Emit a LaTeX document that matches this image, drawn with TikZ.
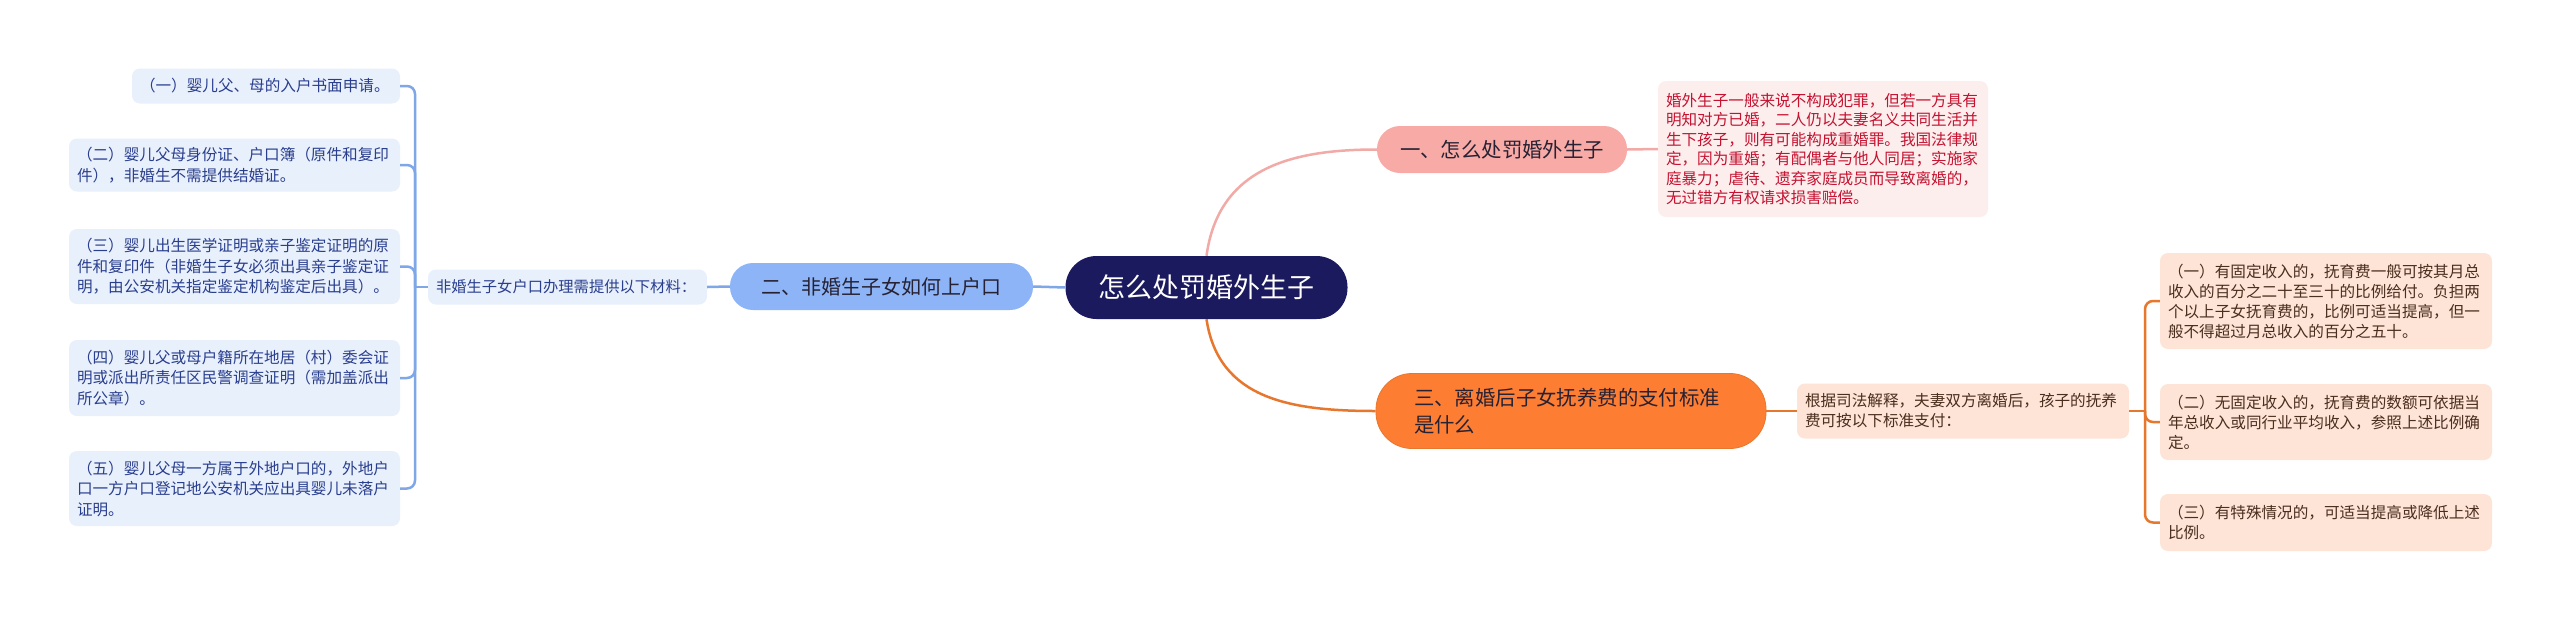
\documentclass[tikz,border=0pt]{standalone}
\usepackage{fontspec}
\setmainfont{Noto Sans CJK SC}
\newcommand\fsz[2]{\fontsize{#1}{#2}\selectfont}
\definecolor{cnavy}{HTML}{1C1A5E}
\definecolor{bnode}{HTML}{8DB4F7}
\definecolor{bleaf}{HTML}{E8F0FC}
\definecolor{btext}{HTML}{2A3E8E}
\definecolor{bline}{HTML}{7FA7E8}
\definecolor{pnode}{HTML}{F8AAA6}
\definecolor{pleaf}{HTML}{FDEEEE}
\definecolor{ptext}{HTML}{C41230}
\definecolor{pline}{HTML}{F2AAA7}
\definecolor{onode}{HTML}{FD7E33}
\definecolor{oleaf}{HTML}{FDE4D6}
\definecolor{otext}{HTML}{4A2E1E}
\definecolor{oline}{HTML}{E8772E}
\definecolor{dtext}{HTML}{262233}
\tikzset{
  box/.style={inner xsep=0pt, inner ysep=0pt, anchor=center},
  sz/.style n args={3}{minimum width=#1, minimum height=#2, text width=#3, align=left},
  wh/.style n args={2}{minimum width=#1, minimum height=#2, align=center},
  leafL/.style={box, fill=bleaf, text=btext, rounded corners=8pt, font=\fsz{15.6}{20.5}},
  leafR/.style={box, fill=oleaf, text=otext, rounded corners=8pt, font=\fsz{15.6}{20}},
  leafP/.style={box, fill=pleaf, text=ptext, rounded corners=8pt, font=\fsz{15.6}{19.5}},
  bconn/.style={draw=bline, line width=2.5pt},
  pconn/.style={draw=pline, line width=2.5pt},
  oconn/.style={draw=oline, line width=2.5pt},
}
\begin{document}
\begin{tikzpicture}[x=1pt, y=-1pt]
\useasboundingbox (0,0) rectangle (2560,619);
\fill[white] (0,0) rectangle (2560,619);

% center
\node[box, wh={282}{63}, fill=cnavy, text=white, rounded corners=31pt, font=\fsz{27}{32}] (c) at (1206.5,287.5) {怎么处罚婚外生子};

% left branch
\node[box, wh={303}{47}, fill=bnode, text=dtext, rounded corners=23pt, font=\fsz{20}{24}] (b) at (881.5,286.5) {二、非婚生子女如何上户口};
\node[leafL, sz={279}{35}{263}, font=\fsz{15.3}{20}] (mid) at (567.5,287) {非婚生子女户口办理需提供以下材料：};
\node[leafL, sz={268}{35}{252}] (l1) at (266,86) {（一）婴儿父、母的入户书面申请。};
\node[leafL, sz={331}{53}{315}] (l2) at (234.5,165) {（二）婴儿父母身份证、户口簿（原件和复印\\件），非婚生不需提供结婚证。};
\node[leafL, sz={331}{75}{315}] (l3) at (234.5,266.5) {（三）婴儿出生医学证明或亲子鉴定证明的原\\件和复印件（非婚生子女必须出具亲子鉴定证\\明，由公安机关指定鉴定机构鉴定后出具）。};
\node[leafL, sz={331}{76}{315}] (l4) at (234.5,378) {（四）婴儿父或母户籍所在地居（村）委会证\\明或派出所责任区民警调查证明（需加盖派出\\所公章）。};
\node[leafL, sz={331}{75}{315}] (l5) at (234.5,488.5) {（五）婴儿父母一方属于外地户口的，外地户\\口一方户口登记地公安机关应出具婴儿未落户\\证明。};

\coordinate (lj) at (415,287);
\draw[bconn] (c.west) -- (b.east);
\draw[bconn] (b.west) -- (mid.east);
\draw[bconn] (mid.west) -- (lj);
\foreach \n in {l1,l2,l3,l4,l5} {
  \draw[bconn, rounded corners=8pt] (lj) |- (\n.east);
}

% pink branch
\node[box, wh={250}{47}, fill=pnode, text=dtext, rounded corners=23pt, font=\fsz{20.4}{24}] (p) at (1502,149.5) {一、怎么处罚婚外生子};
\node[leafP, sz={330}{136}{314}] (pr) at (1823,149) {婚外生子一般来说不构成犯罪，但若一方具有\\明知对方已婚，二人仍以夫妻名义共同生活并\\生下孩子，则有可能构成重婚罪。我国法律规\\定，因为重婚；有配偶者与他人同居；实施家\\庭暴力；虐待、遗弃家庭成员而导致离婚的，\\无过错方有权请求损害赔偿。};
\draw[pconn] (c.north) .. controls +(12,-88) and +(-85,0) .. (p.west);
\draw[pconn] (p.east) -- (pr.west);

% orange branch
\node[box, sz={390}{75}{314}, fill=onode, draw=oline, line width=0.8pt, text=dtext, rounded corners=36pt, font=\fsz{20.4}{26.7}] (o) at (1571,411) {三、离婚后子女抚养费的支付标准\\是什么};
\node[leafR, sz={332}{55}{316}] (ol) at (1963,411) {根据司法解释，夫妻双方离婚后，孩子的抚养\\费可按以下标准支付：};
\node[leafR, sz={332}{96}{316}] (r1) at (2326,301) {（一）有固定收入的，抚育费一般可按其月总\\收入的百分之二十至三十的比例给付。负担两\\个以上子女抚育费的，比例可适当提高，但一\\般不得超过月总收入的百分之五十。};
\node[leafR, sz={332}{76}{316}] (r2) at (2326,422) {（二）无固定收入的，抚育费的数额可依据当\\年总收入或同行业平均收入，参照上述比例确\\定。};
\node[leafR, sz={332}{57}{316}] (r3) at (2326,522.5) {（三）有特殊情况的，可适当提高或降低上述\\比例。};
\draw[oconn] (c.south) .. controls +(12,80) and +(-85,0) .. (o.west);
\draw[oconn] (o.east) -- (ol.west);
\coordinate (rj) at (2145,411);
\draw[oconn] (ol.east) -- (rj);
\foreach \n in {r1,r2,r3} {
  \draw[oconn, rounded corners=8pt] (rj) |- (\n.west);
}
\end{tikzpicture}
\end{document}
